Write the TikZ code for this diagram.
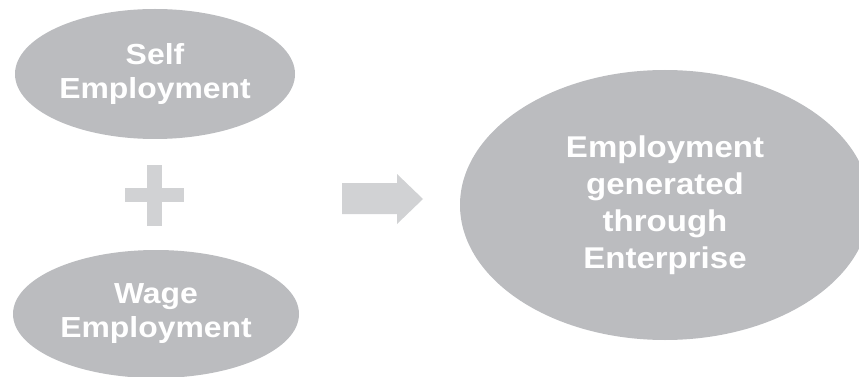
\documentclass[tikz,border=0pt]{standalone}
\usepackage{fontspec}
\setmainfont{Liberation Sans}[FakeStretch=1.1]
\usetikzlibrary{shapes.geometric}
\definecolor{ovalgray}{HTML}{BBBCBF}
\definecolor{signgray}{HTML}{D1D2D4}
\begin{document}
\begin{tikzpicture}
[x=1pt,y=-1pt]
\tikzstyle{every node}=[ellipse, fill=ovalgray, text=white, inner sep=0pt, align=center]
\tikzstyle{small oval}=[font=\bfseries\fontsize{29}{34}\selectfont]
\tikzstyle{big oval}=[font=\bfseries\fontsize{30}{37}\selectfont]
\useasboundingbox (0,0) rectangle (859,377);
\node[small oval, minimum width=280pt, minimum height=130pt] (self) at (155,74) {Self\\Employment};
\node[small oval, minimum width=286pt, minimum height=128pt] (wage) at (156,314) {Wage\\Employment};
\node[big oval, minimum width=410pt, minimum height=270pt] (enterprise) at (665,205) {Employment\\generated\\through\\Enterprise};
% plus sign
\fill[signgray] (147,165) rectangle (162,226);
\fill[signgray] (125,188) rectangle (184,202);
% block arrow
\fill[signgray] (342,183) -- (397,183) -- (397,174) -- (423,199)
  -- (397,224) -- (397,214) -- (342,214) -- cycle;
\end{tikzpicture}
\end{document}
